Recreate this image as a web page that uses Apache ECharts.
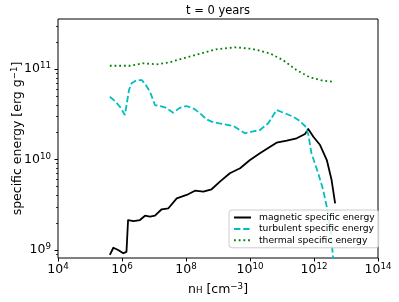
<!DOCTYPE html>
<html>
<head>
<meta charset="utf-8">
<script src="https://cdn.jsdelivr.net/npm/echarts@6/dist/echarts.min.js"></script>
<style>
html,body{margin:0;padding:0;background:#fff;}
#chart{width:399px;height:302px;}
</style>
</head>
<body>
<div id="chart"></div>
<script>
// Values stored as log10 exponents
const magneticLogN = [5.62, 5.73, 5.88, 6.04, 6.14, 6.19, 6.36, 6.56, 6.72, 6.875, 7.03, 7.24, 7.45, 7.71, 8.02, 8.28, 8.54, 8.80, 9.06, 9.37, 9.69, 10.0, 10.31, 10.63, 10.83, 11.15, 11.46, 11.72, 11.82, 11.98, 12.19, 12.40, 12.55, 12.66];
const magneticLogE = [8.945, 9.025, 9.0, 8.964, 8.98, 9.331, 9.32, 9.331, 9.379, 9.368, 9.379, 9.45, 9.461, 9.571, 9.608, 9.655, 9.644, 9.671, 9.755, 9.848, 9.903, 9.994, 10.068, 10.141, 10.186, 10.208, 10.234, 10.282, 10.337, 10.252, 10.16, 9.994, 9.773, 9.516];

const turbulentLogN = [5.62, 5.80, 5.94, 6.09, 6.22, 6.30, 6.45, 6.62, 6.75, 6.875, 7.03, 7.2, 7.34, 7.60, 7.8, 8.02, 8.25, 8.44, 8.64, 8.80, 9.04, 9.48, 9.84, 10.1, 10.31, 10.57, 10.83, 11.1, 11.35, 11.5, 11.72, 11.82, 11.92, 12.13, 12.29, 12.42, 12.52, 12.63];
const turbulentLogE = [10.694, 10.64, 10.58, 10.492, 10.77, 10.842, 10.875, 10.878, 10.82, 10.749, 10.602, 10.59, 10.577, 10.517, 10.57, 10.591, 10.56, 10.51, 10.444, 10.418, 10.40, 10.37, 10.29, 10.31, 10.326, 10.40, 10.547, 10.51, 10.473, 10.44, 10.37, 10.28, 10.07, 9.85, 9.66, 9.44, 9.2, 8.8];

const thermalLogN = [5.62, 6.25, 6.66, 7.08, 7.49, 7.91, 8.43, 8.95, 9.575, 10.09, 10.62, 11.03, 11.45, 11.87, 12.28, 12.59];
const thermalLogE = [11.036, 11.036, 11.063, 11.052, 11.074, 11.118, 11.167, 11.218, 11.240, 11.221, 11.173, 11.099, 10.989, 10.908, 10.871, 10.860];

const xTickExps = [4, 6, 8, 10, 12, 14];
const yTickExps = [9, 10, 11];
const seriesNames = ['magnetic specific energy', 'turbulent specific energy', 'thermal specific energy'];
const titleText = 't = 0 years';

const yMin = 8.9116, yMax = 11.5525;
const yMinor = [];
for (let e = 8; e <= 11; e++) {
  for (let k = 2; k <= 9; k++) {
    const v = e + Math.log10(k);
    if (v > yMin && v < yMax) yMinor.push(v);
  }
}

const FF = 'DejaVu Sans';
const pair = (xs, ys) => xs.map((x, i) => [x, ys[i]]);
const supLabel = v => '{b|10}{s|' + v + '}';
const labelRich = {
  b: {fontSize: 12.5, fontFamily: FF, color: '#000'},
  s: {fontSize: 8.7, fontFamily: FF, color: '#000', padding: [0, 0, 6, 0]}
};

const chart = echarts.init(document.getElementById('chart'), null, {renderer: 'canvas'});
chart.setOption({
  animation: false,
  backgroundColor: '#fff',
  title: {
    text: titleText, left: 218, top: 5, textAlign: 'center', padding: 0,
    textStyle: {fontSize: 11.5, fontWeight: 'normal', fontFamily: FF, color: '#000'}
  },
  grid: {left: 58, top: 19, width: 320, height: 239, show: true, borderColor: '#000', borderWidth: 1, containLabel: false, outerBoundsMode: 'none'},
  legend: {
    orient: 'vertical', left: 229, top: 210,
    itemWidth: 17, itemHeight: 9, itemGap: 2.4,
    padding: [3, 4, 3, 4],
    borderColor: '#cccccc', borderWidth: 1, borderRadius: 3,
    backgroundColor: 'rgba(255,255,255,0.8)',
    itemStyle: {opacity: 0},
    textStyle: {fontSize: 9.2, fontFamily: FF, color: '#000', padding: [0, 0, 0, 3]},
    data: seriesNames
  },
  xAxis: {
    type: 'value', min: 4, max: 14, interval: 2,
    axisLine: {show: false},
    axisTick: {show: true, length: 3.5, lineStyle: {color: '#000', width: 1}},
    splitLine: {show: false},
    axisLabel: {formatter: supLabel, rich: labelRich, margin: 4},
    name: '{n|n}{sub|H}{n| [cm}{sup|−3}{n|]}',
    nameLocation: 'middle', nameGap: 24, nameMoveOverlap: false,
    nameTextStyle: {
      rich: {
        n: {fontSize: 12.5, fontFamily: FF, color: '#000'},
        sub: {fontSize: 8.7, fontFamily: FF, color: '#000', padding: [0, 0, -3, 0]},
        sup: {fontSize: 8.7, fontFamily: FF, color: '#000', padding: [0, 0, 6, 0]}
      }
    }
  },
  yAxis: [{
    type: 'value', min: yMin, max: yMax,
    axisLine: {show: false},
    axisTick: {show: true, length: 3.5, customValues: yTickExps, lineStyle: {color: '#000', width: 1}},
    splitLine: {show: false},
    axisLabel: {customValues: yTickExps, formatter: supLabel, rich: labelRich, margin: 7},
    name: '{n|specific energy [erg g}{sup|−1}{n|]}',
    nameLocation: 'middle', nameGap: 33, nameRotate: 90, nameMoveOverlap: false,
    nameTextStyle: {
      rich: {
        n: {fontSize: 12.5, fontFamily: FF, color: '#000'},
        sup: {fontSize: 8.7, fontFamily: FF, color: '#000', padding: [0, 0, 6, 0]}
      }
    }
  }, {
    type: 'value', min: yMin, max: yMax, position: 'left',
    axisLine: {show: false},
    axisTick: {show: true, length: 2, customValues: yMinor, lineStyle: {color: '#000', width: 0.8}},
    splitLine: {show: false},
    axisLabel: {show: false}
  }],
  series: [{
    name: seriesNames[0], type: 'line', symbol: 'none', yAxisIndex: 0,
    data: pair(magneticLogN, magneticLogE),
    lineStyle: {color: '#000000', width: 1.8, join: 'round', cap: 'butt'},
    itemStyle: {color: '#000000'}
  }, {
    name: seriesNames[1], type: 'line', symbol: 'none', yAxisIndex: 0,
    data: pair(turbulentLogN, turbulentLogE),
    lineStyle: {color: '#00bfbf', width: 1.8, type: [6.4, 2.8], cap: 'butt'},
    itemStyle: {color: '#00bfbf'}
  }, {
    name: seriesNames[2], type: 'line', symbol: 'none', yAxisIndex: 0,
    data: pair(thermalLogN, thermalLogE),
    lineStyle: {color: '#008000', width: 1.8, type: [1.8, 2.9], cap: 'butt'},
    itemStyle: {color: '#008000'}
  }]
});
</script>
</body>
</html>
